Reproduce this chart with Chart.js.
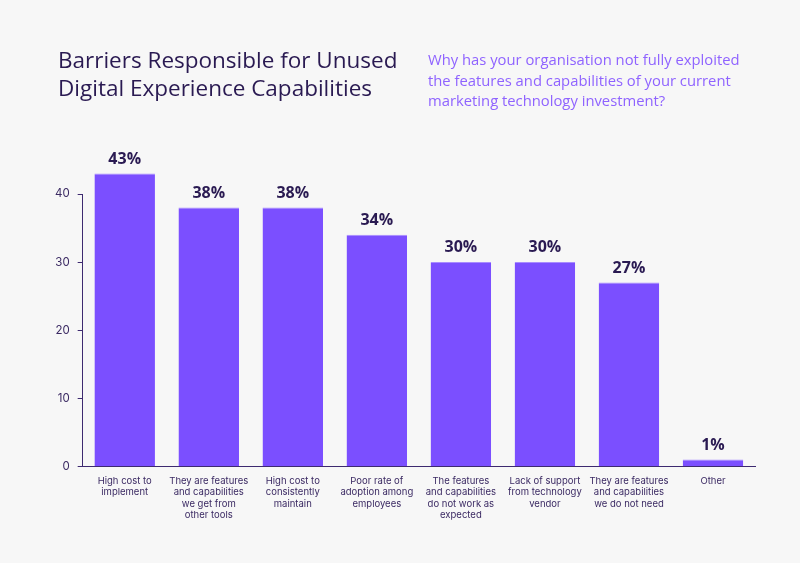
<!DOCTYPE html>
<html>
<head>
<meta charset="utf-8">
<script src="https://cdn.jsdelivr.net/npm/chart.js@4"></script>
<style>
  html, body { margin: 0; padding: 0; background: #f7f7f7; }
  #wrap { position: relative; width: 800px; height: 563px; overflow: hidden; background: #f7f7f7; }
  #title { position: absolute; left: 58px; top: 46px; font-family: "Open Sans", sans-serif; font-size: 22.5px; line-height: 28px; color: #2a1a52; letter-spacing: 0px; }
  #sub { position: absolute; left: 428px; top: 49px; font-family: "Open Sans", sans-serif; font-size: 14.8px; line-height: 20.5px; color: #8f63ff; }
  #c { position: absolute; left: 0; top: 0; }
</style>
</head>
<body>
<div id="wrap">
  <canvas id="c" width="800" height="563"></canvas>
  <div id="title">Barriers Responsible for Unused<br>Digital Experience Capabilities</div>
  <div id="sub">Why has your organisation not fully exploited<br>the features and capabilities of your current<br>marketing technology investment?</div>
</div>
<script>
const categories = [
  ["High cost to", "implement"],
  ["They are features", "and capabilities", "we get from", "other tools"],
  ["High cost to", "consistently", "maintain"],
  ["Poor rate of", "adoption among", "employees"],
  ["The features", "and capabilities", "do not work as", "expected"],
  ["Lack of support", "from technology", "vendor"],
  ["They are features", "and capabilities", "we do not need"],
  ["Other"]
];
const values = [43, 38, 38, 34, 30, 30, 27, 1];
const yTicks = [0, 10, 20, 30, 40];

const labelPlugin = {
  id: 'valueLabels',
  afterDatasetsDraw(chart) {
    const ctx = chart.ctx;
    const meta = chart.getDatasetMeta(0);
    ctx.save();
    ctx.font = 'bold 16px "Open Sans", sans-serif';
    ctx.fillStyle = '#2a1a52';
    ctx.textAlign = 'center';
    ctx.textBaseline = 'alphabetic';
    meta.data.forEach((bar, i) => {
      ctx.fillText(values[i] + '%', bar.x, bar.y - 10);
    });
    ctx.restore();
  }
};

new Chart(document.getElementById('c'), {
  type: 'bar',
  data: {
    labels: categories,
    datasets: [{
      data: values,
      backgroundColor: '#7b4fff',
      borderColor: '#a88cff',
      borderWidth: { top: 1, left: 0, right: 0, bottom: 0 },
      borderSkipped: 'bottom',
      categoryPercentage: 0.72,
      barPercentage: 1.0,
      clip: false
    }]
  },
  options: {
    responsive: false,
    animation: false,
    devicePixelRatio: 1,
    layout: { padding: { left: 47, right: 45, top: 194, bottom: 33 } },
    plugins: { legend: { display: false }, tooltip: { enabled: false }, title: { display: false } },
    scales: {
      x: {
        grid: { display: false, drawTicks: false },
        border: { display: true, color: '#3d2a70', width: 1 },
        ticks: {
          color: '#3b2a63',
          font: { family: 'Inter, "Open Sans", sans-serif', size: 9.5 },
          padding: 9,
          maxRotation: 0,
          autoSkip: false
        }
      },
      y: {
        min: 0,
        max: 40,
        afterBuildTicks(scale) { scale.ticks = yTicks.map(v => ({ value: v })); },
        grid: { display: true, drawOnChartArea: false, drawTicks: true, tickLength: 5, color: '#3d2a70' },
        border: { display: true, color: '#3d2a70', width: 1 },
        ticks: {
          color: '#3b2a63',
          font: { family: 'Inter, "Open Sans", sans-serif', size: 11.5 },
          padding: 8
        }
      }
    }
  },
  plugins: [labelPlugin]
});
</script>
</body>
</html>
